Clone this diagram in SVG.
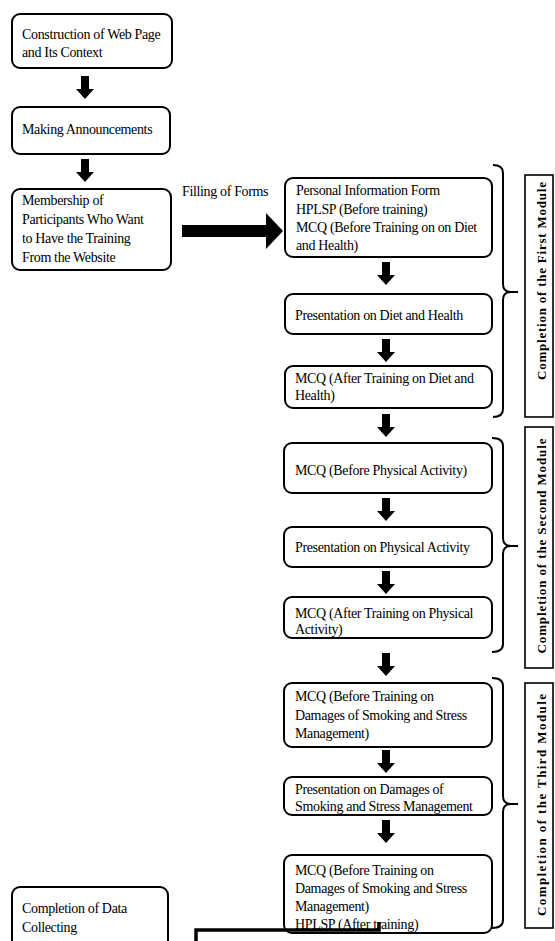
<svg xmlns="http://www.w3.org/2000/svg" width="555" height="941" viewBox="0 0 555 941">
<style>
.box{fill:#fff;stroke:#000;stroke-width:2}
.t{font-family:"Liberation Serif","Times New Roman",serif;font-size:14px;letter-spacing:-0.35px;fill:#000}
.lbl{fill:#fff;stroke:#000;stroke-width:1.6}
.lt{font-family:"Liberation Serif","Times New Roman",serif;font-size:13px;font-weight:bold;fill:#000}
.br{fill:none;stroke:#000;stroke-width:2}
.ar{fill:#000}
</style>
<defs>
<path id="down" d="M-4,0 H4 V13 H9 L0,23 L-9,13 H-4 Z"/>
</defs>
<rect width="555" height="941" fill="#fff"/>

<g id="n1"><rect class="box" x="12" y="14" width="160" height="54" rx="8"/>
<text class="t" x="22" y="39">Construction of Web Page</text><text class="t" x="22" y="57">and Its Context</text></g>

<g id="n2"><rect class="box" x="12" y="107" width="158" height="47" rx="8"/>
<text class="t" x="22" y="134">Making Announcements</text></g>

<g id="n3"><rect class="box" x="12" y="189" width="159" height="81" rx="8"/>
<text class="t" x="22" y="205">Membership of</text><text class="t" x="22" y="224">Participants Who Want</text><text class="t" x="22" y="243">to Have the Training</text><text class="t" x="22" y="262">From the Website</text></g>

<g id="nA"><rect class="box" x="285" y="178" width="207" height="79" rx="8"/>
<text class="t" x="296" y="195">Personal Information Form</text><text class="t" x="296" y="214">HPLSP (Before  training)</text><text class="t" x="296" y="232">MCQ (Before  Training on on Diet</text><text class="t" x="296" y="250">and Health)</text></g>

<g id="nB"><rect class="box" x="285" y="294" width="207" height="40" rx="8"/>
<text class="t" x="295" y="320">Presentation on Diet and Health</text></g>

<g id="nC"><rect class="box" x="285" y="366" width="207" height="42" rx="8"/>
<text class="t" x="295" y="383">MCQ (After Training on Diet and</text><text class="t" x="295" y="400">Health)</text></g>

<g id="nD"><rect class="box" x="284" y="443" width="208" height="50" rx="8"/>
<text class="t" x="295" y="475">MCQ (Before Physical Activity)</text></g>

<g id="nE"><rect class="box" x="284" y="527" width="208" height="40" rx="8"/>
<text class="t" x="295" y="552">Presentation on Physical Activity</text></g>

<g id="nF"><rect class="box" x="284" y="597" width="208" height="41" rx="8"/>
<text class="t" x="295" y="618">MCQ (After Training on Physical</text><text class="t" x="295" y="634">Activity)</text></g>

<g id="nG"><rect class="box" x="284" y="683" width="208" height="64" rx="8"/>
<text class="t" x="295" y="701">MCQ (Before  Training on</text><text class="t" x="295" y="720">Damages of Smoking  and Stress</text><text class="t" x="295" y="738">Management)</text></g>

<g id="nH"><rect class="box" x="284" y="777" width="208" height="38" rx="8"/>
<text class="t" x="295" y="794">Presentation on Damages of</text><text class="t" x="295" y="811">Smoking  and Stress Management</text></g>

<g id="nI"><rect class="box" x="284" y="855" width="208" height="78" rx="8"/>
<text class="t" x="295" y="875">MCQ (Before  Training on</text><text class="t" x="295" y="893">Damages of Smoking  and Stress</text><text class="t" x="295" y="911">Management)</text><text class="t" x="295" y="929">HPLSP  (After training)</text></g>

<g id="nEnd"><rect class="box" x="12" y="887" width="156" height="80" rx="8"/>
<text class="t" x="22" y="913">Completion of Data</text><text class="t" x="22" y="932">Collecting</text></g>

<g id="m1"><path class="br" d="M493,165 Q503,165 503,173 V284 Q503,292 511,292 H518 M511,292 Q503,292 503,300 V409 Q503,417 493,417"/>
<rect class="lbl" x="525" y="175" width="28" height="242"/>
<text class="lt" transform="translate(546,281) rotate(-90)" text-anchor="middle" textLength="198" lengthAdjust="spacing">Completion of the  First Module</text></g>

<g id="m2"><path class="br" d="M492,438 Q503,438 503,446 V538 Q503,546 511,546 H518 M511,546 Q503,546 503,554 V644 Q503,652 492,652"/>
<rect class="lbl" x="525" y="427" width="28" height="241"/>
<text class="lt" transform="translate(546,546) rotate(-90)" text-anchor="middle" textLength="215" lengthAdjust="spacing">Completion of the  Second Module</text></g>

<g id="m3"><path class="br" d="M492,678 Q503,678 503,686 V796 Q503,804 511,804 H518 M511,804 Q503,804 503,812 V920 Q503,928 492,928"/>
<rect class="lbl" x="525" y="683" width="28" height="245"/>
<text class="lt" transform="translate(546,805) rotate(-90)" text-anchor="middle" textLength="222" lengthAdjust="spacing">Completion of the Third Module</text></g>

<g id="connectors">
<use href="#down" class="ar" x="85" y="76"/>
<use href="#down" class="ar" x="85" y="159"/>
<use href="#down" class="ar" x="386" y="262"/>
<use href="#down" class="ar" x="386" y="339"/>
<use href="#down" class="ar" x="386" y="414"/>
<use href="#down" class="ar" x="386" y="498"/>
<use href="#down" class="ar" x="386" y="571"/>
<use href="#down" class="ar" x="386" y="653"/>
<use href="#down" class="ar" x="386" y="750"/>
<use href="#down" class="ar" x="386" y="820"/>
<path class="ar" d="M182,225 H266 V213 L283,231 L266,249 V237 H182 Z"/>
<text class="t" x="182" y="196">Filling of Forms</text>
<polyline points="379,922 379,930 196,930 196,945" fill="none" stroke="#000" stroke-width="3.5"/>
</g>
</svg>
